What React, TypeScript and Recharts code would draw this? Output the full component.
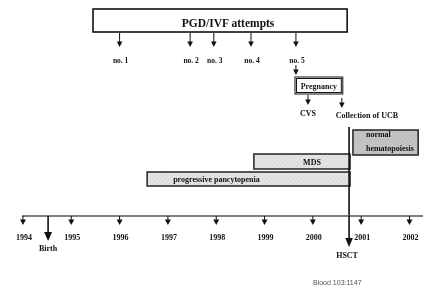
import React from 'react';
import {
  ComposedChart,
  XAxis,
  YAxis,
  Scatter,
  ReferenceArea,
  ReferenceLine,
  ReferenceDot,
} from 'recharts';

// ---------------- data ----------------
const yearTicks = [1994, 1995, 1996, 1997, 1998, 1999, 2000, 2001, 2002];
const programTitle = 'PGD/IVF attempts';
const programSpan = [1995.45, 2000.71];
const attemptLabels = ['no. 1', 'no. 2', 'no. 3', 'no. 4', 'no. 5'];
const attemptYears = [1996.0, 1997.46, 1997.95, 1998.72, 1999.65];
const pregnancyLabel = 'Pregnancy';
const pregnancySpan = [1999.63, 2000.62];
const procedureLabels = ['CVS', 'Collection of UCB'];
const procedureYears = [1999.9, 2000.6];
const phaseLabels = ['progressive pancytopenia', 'MDS', 'normal hematopoiesis'];
const phaseStarts = [1996.57, 1998.78, 2000.83];
const phaseEnds = [2000.77, 2000.77, 2002.18];
const eventLabels = ['Birth', 'HSCT'];
const eventYears = [1994.52, 2000.75];
const sourceNote = 'Blood 103:1147';

// ---------------- layout ----------------
const W = 423;
const H = 292;
const X_DOMAIN: [number, number] = [1993.98, 2002.28];
const AXIS_Y = 216; // vertical rows of the diagram (no data on this dimension)
const ROW = {
  programTop: 9,
  programBottom: 32,
  attempt: 33,
  toPregnancy: 65,
  pregTop: 77,
  pregBottom: 94,
  procedure: 96,
  hsctTop: 127,
  normalTop: 130,
  normalBottom: 155,
  mdsTop: 154,
  mdsBottom: 169,
  pancTop: 172,
  pancBottom: 186,
};
const SERIF = '"Liberation Serif", "Times New Roman", serif';
const INK = '#111';

const attemptData = attemptYears.map((year, i) => ({
  year,
  level: ROW.attempt,
  label: attemptLabels[i],
}));

function Arrow({ x, y1, y2, head = 5, hw = 2.6, sw = 1 }: any) {
  return (
    <g>
      <line x1={x} y1={y1} x2={x} y2={y2 - head + 0.5} stroke={INK} strokeWidth={sw} />
      <polygon points={`${x - hw},${y2 - head} ${x + hw},${y2 - head} ${x},${y2}`} fill={INK} />
    </g>
  );
}

function Txt({ x, y, children, size = 8, anchor = 'middle' }: any) {
  return (
    <text
      x={x}
      y={y}
      textAnchor={anchor}
      fontFamily={SERIF}
      fontWeight="bold"
      fontSize={size}
      fill={INK}
    >
      {children}
    </text>
  );
}

const yearTick = (p: any) => {
  const { x, y, payload } = p;
  return (
    <g>
      <Arrow x={x} y1={y} y2={y + 9} head={5.5} hw={3} sw={1} />
      <Txt x={x + 1} y={y + 24} size={8}>
        {String(payload.value)}
      </Txt>
    </g>
  );
};

const attemptShape = (p: any) => {
  const { cx, cy, payload } = p;
  return (
    <g>
      <Arrow x={cx} y1={cy} y2={cy + 14} head={5.5} hw={2.8} sw={1} />
      <Txt x={cx + 1} y={cy + 30} size={7.5}>
        {payload.label}
      </Txt>
    </g>
  );
};

const programShape = (p: any) => {
  const { x, y, width, height } = p;
  return (
    <g>
      <rect x={x} y={y} width={width} height={height} fill="#fff" stroke={INK} strokeWidth={1.6} />
      <Txt x={x + width / 2 + 8} y={y + height - 5} size={11.5}>
        {programTitle}
      </Txt>
    </g>
  );
};

const pregnancyShape = (p: any) => {
  const { x, y, width, height } = p;
  return (
    <g>
      <rect x={x} y={y} width={width} height={height} fill="#fff" stroke={INK} strokeWidth={1} />
      <rect x={x + 1.5} y={y + 1.5} width={width - 3} height={height - 3} fill="none" stroke={INK} strokeWidth={1} />
      <Txt x={x + width / 2} y={y + height / 2 + 3} size={8}>
        {pregnancyLabel}
      </Txt>
    </g>
  );
};

const phaseShape = (i: number) => (p: any) => {
  const { x, y, width, height } = p;
  const fill = i === 2 ? 'url(#hatchDark)' : 'url(#hatchLight)';
  let label: any = null;
  if (i === 0) {
    label = (
      <Txt x={x + 26} y={y + height - 4} anchor="start">
        {phaseLabels[0]}
      </Txt>
    );
  } else if (i === 1) {
    label = (
      <Txt x={x + width / 2 + 10} y={y + height - 4}>
        {phaseLabels[1]}
      </Txt>
    );
  } else {
    const [w1, w2] = phaseLabels[2].split(' ');
    label = (
      <g>
        <Txt x={x + 13} y={y + 7} anchor="start">
          {w1}
        </Txt>
        <Txt x={x + 13} y={y + 21} anchor="start">
          {w2}
        </Txt>
      </g>
    );
  }
  return (
    <g>
      <rect x={x} y={y} width={width} height={height} fill={fill} stroke="#222" strokeWidth={1.5} />
      {label}
    </g>
  );
};

const procedureShape = (i: number) => (p: any) => {
  const { cx, cy } = p;
  const start = i === 0 ? cy - 1 : cy + 2;
  return (
    <g>
      <Arrow x={cx} y1={start} y2={start + 10} head={5.5} hw={2.8} sw={1} />
      <Txt x={i === 0 ? cx : cx - 6} y={cy + 20 + (i === 0 ? 0 : 2)} anchor={i === 0 ? 'middle' : 'start'}>
        {procedureLabels[i]}
      </Txt>
    </g>
  );
};

const toPregnancyShape = (p: any) => {
  const { cx, cy } = p;
  return <Arrow x={cx} y1={cy} y2={cy + 10} head={5.5} hw={2.8} sw={1} />;
};

const eventShape = (i: number) => (p: any) => {
  const { cx, cy } = p;
  if (i === 0) {
    return (
      <g>
        <Arrow x={cx} y1={cy} y2={cy + 25} head={9} hw={4} sw={1.6} />
        <Txt x={cx} y={cy + 35}>
          {eventLabels[0]}
        </Txt>
      </g>
    );
  }
  return (
    <g>
      <Arrow x={cx} y1={cy} y2={cy + 31} head={9} hw={3.8} sw={1.6} />
      <Txt x={cx - 2} y={cy + 42}>
        {eventLabels[1]}
      </Txt>
    </g>
  );
};

export default function App() {
  return (
    <div
      style={{
        position: 'absolute',
        left: 0,
        top: 0,
        width: W,
        height: H,
        background: '#fff',
        filter: 'grayscale(1)',
      }}
    >
      <ComposedChart width={W} height={H} margin={{ top: 0, right: 0, bottom: 0, left: 22 }}>
        <defs>
          <pattern id="hatchLight" width="3" height="3" patternUnits="userSpaceOnUse" patternTransform="rotate(45)">
            <rect width="3" height="3" fill="#e6e6e6" />
            <line x1="0" y1="0" x2="0" y2="3" stroke="#c8c8c8" strokeWidth="1" />
          </pattern>
          <pattern id="hatchDark" width="3" height="3" patternUnits="userSpaceOnUse" patternTransform="rotate(45)">
            <rect width="3" height="3" fill="#c6c6c6" />
            <line x1="0" y1="0" x2="0" y2="3" stroke="#aeaeae" strokeWidth="1" />
          </pattern>
        </defs>
        <XAxis
          type="number"
          dataKey="year"
          domain={X_DOMAIN}
          allowDataOverflow
          ticks={yearTicks}
          interval={0}
          height={H - AXIS_Y}
          tickLine={false}
          tickSize={0}
          tickMargin={0}
          tick={yearTick}
          axisLine={{ stroke: '#555', strokeWidth: 1.5 }}
        />
        <YAxis hide type="number" dataKey="level" domain={[0, AXIS_Y]} reversed allowDataOverflow />

        <ReferenceArea
          x1={programSpan[0]}
          x2={programSpan[1]}
          y1={ROW.programTop}
          y2={ROW.programBottom}
          shape={programShape}
          ifOverflow="visible"
        />
        <Scatter data={attemptData} dataKey="level" shape={attemptShape} isAnimationActive={false} />
        <ReferenceDot x={attemptYears[4]} y={ROW.toPregnancy} shape={toPregnancyShape} ifOverflow="visible" />
        <ReferenceArea
          x1={pregnancySpan[0]}
          x2={pregnancySpan[1]}
          y1={ROW.pregTop}
          y2={ROW.pregBottom}
          shape={pregnancyShape}
          ifOverflow="visible"
        />
        {procedureYears.map((yr, i) => (
          <ReferenceDot key={'p' + i} x={yr} y={ROW.procedure} shape={procedureShape(i)} ifOverflow="visible" />
        ))}

        <ReferenceArea
          x1={phaseStarts[2]}
          x2={phaseEnds[2]}
          y1={ROW.normalTop}
          y2={ROW.normalBottom}
          shape={phaseShape(2)}
          ifOverflow="visible"
        />
        <ReferenceArea
          x1={phaseStarts[1]}
          x2={phaseEnds[1]}
          y1={ROW.mdsTop}
          y2={ROW.mdsBottom}
          shape={phaseShape(1)}
          ifOverflow="visible"
        />
        <ReferenceArea
          x1={phaseStarts[0]}
          x2={phaseEnds[0]}
          y1={ROW.pancTop}
          y2={ROW.pancBottom}
          shape={phaseShape(0)}
          ifOverflow="visible"
        />

        <ReferenceLine
          segment={[
            { x: eventYears[1], y: ROW.hsctTop },
            { x: eventYears[1], y: AXIS_Y },
          ]}
          stroke={INK}
          strokeWidth={1.6}
          ifOverflow="visible"
        />
        {eventYears.map((yr, i) => (
          <ReferenceDot key={'e' + i} x={yr} y={AXIS_Y} shape={eventShape(i)} ifOverflow="visible" />
        ))}
      </ComposedChart>
      <div
        style={{
          position: 'absolute',
          left: 313,
          top: 279,
          fontFamily: '"Liberation Sans", Arial, sans-serif',
          fontSize: 7,
          lineHeight: '8px',
          color: '#555',
          whiteSpace: 'nowrap',
        }}
      >
        {sourceNote}
      </div>
    </div>
  );
}
